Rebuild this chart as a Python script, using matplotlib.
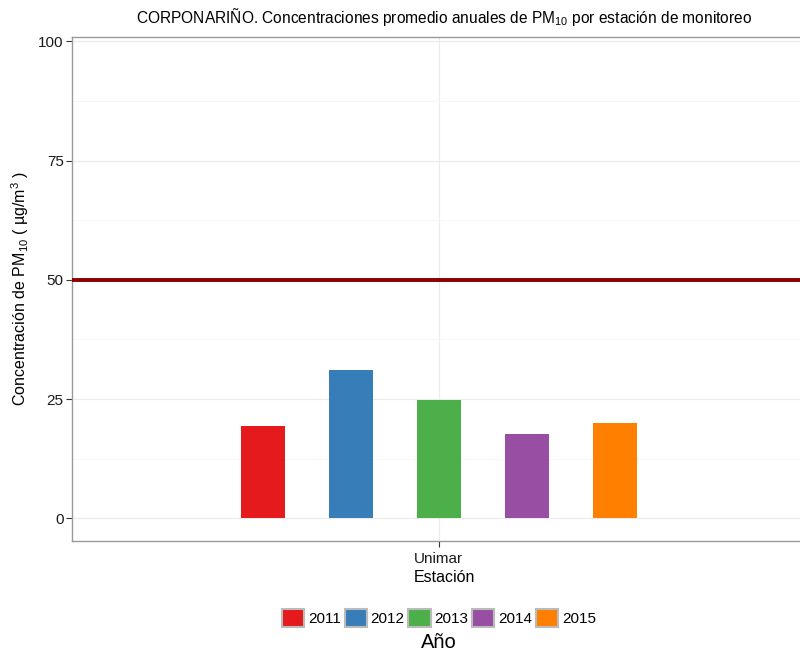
import matplotlib.pyplot as plt
from matplotlib.patches import Patch
from matplotlib.ticker import MultipleLocator

plt.rcParams['font.family'] = ['Liberation Sans', 'DejaVu Sans']
plt.rcParams['mathtext.default'] = 'regular'

# Datos: promedio anual de PM10 en la estación Unimar
estacion = 'Unimar'
anios = ['2011', '2012', '2013', '2014', '2015']
valores = [19.3, 31.1, 24.8, 17.6, 20.0]
colores = ['#E41A1C', '#377EB8', '#4DAF4A', '#984EA3', '#FF7F00']
norma = 50

fig = plt.figure(figsize=(8, 6.52), dpi=100)
ax = fig.add_axes([0.09, 0.170, 0.93, 0.7737])

# Barras agrupadas (dodge) alrededor de la estación
n = len(anios)
for i, (v, c) in enumerate(zip(valores, colores)):
    ax.bar(i - (n - 1) / 2, v, width=0.5, color=c, zorder=3)

# Límite normativo
ax.axhline(norma, color='#8B0000', lw=2.8, zorder=4)

ax.set_xlim(-4.17, 4.29)
ax.set_ylim(-4.8, 101.0)
ax.set_xticks([0])
ax.set_xticklabels([estacion])
ax.yaxis.set_major_locator(MultipleLocator(25))
ax.yaxis.set_minor_locator(MultipleLocator(12.5))

# Cuadrícula estilo theme_bw
ax.grid(which='major', color='#EBEBEB', lw=0.8, zorder=0)
ax.grid(which='minor', axis='y', color='#F5F5F5', lw=0.6, zorder=0)
ax.tick_params(which='minor', length=0)
ax.tick_params(which='major', length=4, color='#333333', labelsize=11,
               labelcolor='#1a1a1a', pad=2)
ax.tick_params(axis='x', pad=4)
for s in ax.spines.values():
    s.set_color('#9a9a9a')
    s.set_linewidth(1.0)

ax.set_xlabel('Estación', fontsize=11.5, labelpad=3)
ax.set_ylabel(r'Concentración de PM$_{10}$ ( µg/m$^3$ )', fontsize=11.5, labelpad=5)
ax.set_title(r'CORPONARIÑO. Concentraciones promedio anuales de PM$_{10}$ por estación de monitoreo',
             fontsize=11.2, pad=10)

# Leyenda horizontal con título debajo
handles = [Patch(facecolor=c, edgecolor='#BBBBBB', lw=1.5) for c in colores]
fig.legend(handles, anios, loc='center', bbox_to_anchor=(439 / 800, 1 - 618 / 652),
           ncol=n, frameon=False, fontsize=11, handlelength=1.45, handleheight=1.45,
           handletextpad=0.25, columnspacing=0.25)
fig.text(439 / 800, 1 - 643 / 652, 'Año', ha='center', va='center', fontsize=14.5)

fig.savefig('out.png', dpi=100)
